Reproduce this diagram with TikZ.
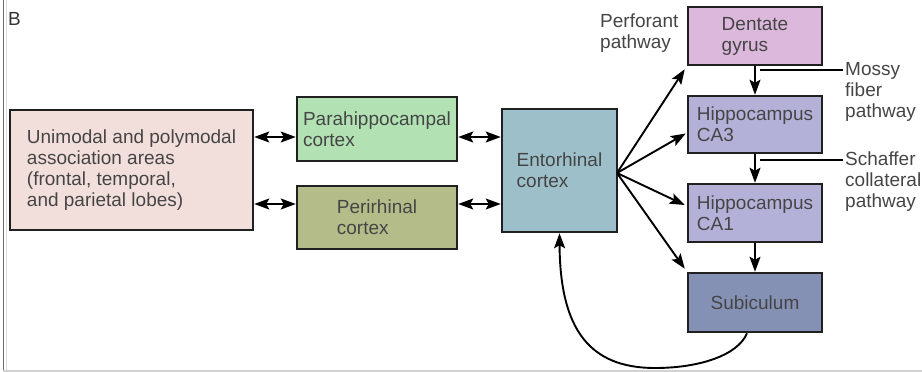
\documentclass[tikz,border=0pt]{standalone}
\usepackage{fontspec}
\setmainfont{Liberation Sans}
\usetikzlibrary{arrows.meta,calc}
\definecolor{cuni}{HTML}{F2DFDB}
\definecolor{cpara}{HTML}{B2E2B4}
\definecolor{cperi}{HTML}{B4BD8A}
\definecolor{cent}{HTML}{9DBFC9}
\definecolor{cdg}{HTML}{DDB8DD}
\definecolor{cca}{HTML}{B4B1D9}
\definecolor{csub}{HTML}{8590B5}
\definecolor{ctext}{HTML}{454545}
\definecolor{cedge}{HTML}{202020}
\begin{document}
\begin{tikzpicture}[x=1pt,y=-1pt,
  font=\fontsize{19}{21}\selectfont,
  region/.style={draw=cedge,line width=2.5pt,inner sep=0pt,text=ctext,align=left},
  lbl/.style={inner sep=0pt,text=ctext,align=left,anchor=north west},
  tip/.style={},
  arr/.style={draw=black,line width=1.9pt,-{Stealth[length=15pt,width=11pt,inset=3pt]}},
  dbl/.style={draw=black,line width=1.8pt,{Stealth[length=15pt,width=11pt,inset=3pt]}-{Stealth[length=15pt,width=11pt,inset=3pt]}},
  lead/.style={draw=black,line width=1.4pt}]
\useasboundingbox (0,0) rectangle (922,372);
% frame
\draw[draw=gray!85!black,line width=1.5pt] (3.5,0) -- (3.5,372);
\draw[draw=gray!30,line width=1.5pt] (6.5,0) -- (6.5,370);
\draw[draw=gray!35,line width=1.2pt] (3,371) -- (922,371);
% panel letter
\node[lbl,text=black!80] (B) at (8,12) {B};
% boxes
\node[region,fill=cuni,minimum width=243pt,minimum height=120pt] (uni) at (131.5,170)
  {Unimodal and polymodal\\association areas\\(frontal, temporal,\\and parietal lobes)};
\node[region,fill=cpara,minimum width=160pt,minimum height=64pt] (para) at (377,129)
  {Parahippocampal\\cortex};
\node[region,fill=cperi,minimum width=160pt,minimum height=63pt] (peri) at (377,217.5)
  {Perirhinal\\cortex};
\node[region,fill=cent,minimum width=115pt,minimum height=123pt] (ent) at (559.5,170.5)
  {Entorhinal\\cortex};
\node[region,fill=cdg,minimum width=134pt,minimum height=58pt] (dg) at (755,36)
  {Dentate\\gyrus};
\node[region,fill=cca,minimum width=134pt,minimum height=57pt] (ca3) at (755,124.5)
  {Hippocampus\\CA3};
\node[region,fill=cca,minimum width=134pt,minimum height=58pt] (ca1) at (755,213)
  {Hippocampus\\CA1};
\node[region,fill=csub,minimum width=134pt,minimum height=59pt] (sub) at (755,302.5)
  {Subiculum};
% labels
\node[lbl] (perf) at (600,14) {Perforant\\pathway};
\node[lbl] (mossy) at (845,62) {Mossy\\fiber\\pathway};
\node[lbl] (schaf) at (845,152) {Schaffer\\collateral\\pathway};
% double arrows
\coordinate (r1) at (0,137);
\coordinate (r2) at (0,204);
\draw[dbl] (uni.east |- r1) -- (para.west |- r1);
\draw[dbl] (uni.east |- r2) -- (peri.west |- r2);
\draw[dbl] (para.east |- r1) -- (ent.west |- r1);
\draw[dbl] (peri.east |- r2) -- (ent.west |- r2);
% fan
\coordinate (fan) at (617,173);
\draw[arr] (fan) -- ($(dg.south west)+(-2,3)$);
\draw[arr] (fan) -- ($(ca3.west)+(-1,9)$);
\draw[arr] (fan) -- ($(ca1.west)+(-2,-8)$);
\draw[arr] (fan) -- ($(sub.north west)+(-2,-3)$);
% vertical chain
\draw[arr] (dg.south) -- (ca3.north);
\draw[arr] (ca3.south) -- (ca1.north);
\draw[arr] (ca1.south) -- (sub.north);
% leader lines
\coordinate (m1) at (760,70);
\coordinate (m2) at (843,70);
\coordinate (s1) at (760,160);
\coordinate (s2) at (843,160);
\draw[lead] (m1) -- (m2);
\draw[lead] (s1) -- (s2);
% return loop
\coordinate (low) at (655,368);
\draw[arr] ($(sub.south)+(-8,0)$) .. controls (738,355) and (700,368) .. (low)
  .. controls (590,368) and (560,330) .. (ent.south);
\end{tikzpicture}
\end{document}
